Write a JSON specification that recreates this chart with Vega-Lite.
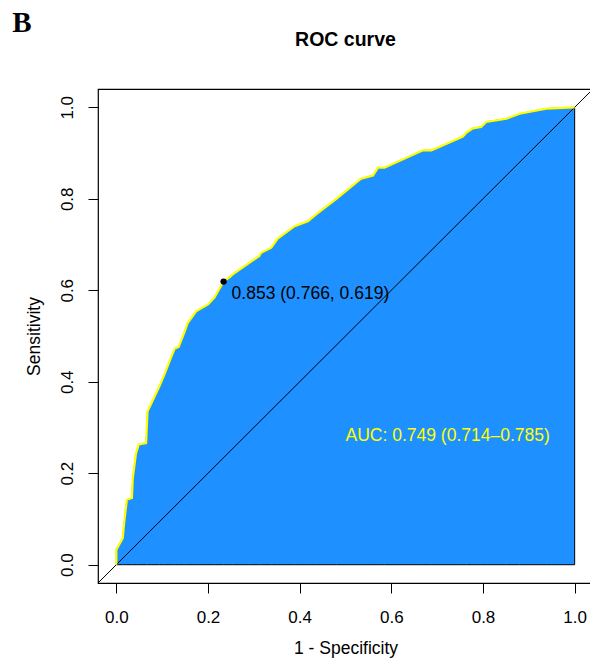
{
  "$schema": "https://vega.github.io/schema/vega-lite/v6.json",
  "autosize": {"type": "none"},
  "padding": {"left": 98, "top": 89, "right": 0, "bottom": 75},
  "width": 495,
  "height": 494,
  "background": "white",
  "config": {
    "font": "Liberation Sans",
    "view": {"stroke": "black", "strokeWidth": 1.2},
    "axis": {"domain": false, "grid": false, "tickColor": "black", "tickSize": 10, "tickWidth": 1, "labelColor": "black", "titleColor": "black", "labelFontSize": 17, "titleFontSize": 17.5, "titleFontWeight": "normal", "labelFont": "Liberation Sans", "titleFont": "Liberation Sans"}
  },
  "datasets": {
    "roc": [
      {"i": 0, "fpr": 0.0, "tpr": 0.0},
      {"i": 1, "fpr": 0.0, "tpr": 0.033},
      {"i": 2, "fpr": 0.014, "tpr": 0.058},
      {"i": 3, "fpr": 0.017, "tpr": 0.091},
      {"i": 4, "fpr": 0.023, "tpr": 0.142},
      {"i": 5, "fpr": 0.034, "tpr": 0.146},
      {"i": 6, "fpr": 0.036, "tpr": 0.19},
      {"i": 7, "fpr": 0.043, "tpr": 0.244},
      {"i": 8, "fpr": 0.049, "tpr": 0.263},
      {"i": 9, "fpr": 0.065, "tpr": 0.266},
      {"i": 10, "fpr": 0.068, "tpr": 0.335},
      {"i": 11, "fpr": 0.094, "tpr": 0.39},
      {"i": 12, "fpr": 0.105, "tpr": 0.416},
      {"i": 13, "fpr": 0.119, "tpr": 0.452},
      {"i": 14, "fpr": 0.127, "tpr": 0.472},
      {"i": 15, "fpr": 0.136, "tpr": 0.476},
      {"i": 16, "fpr": 0.148, "tpr": 0.507},
      {"i": 17, "fpr": 0.156, "tpr": 0.529},
      {"i": 18, "fpr": 0.174, "tpr": 0.554},
      {"i": 19, "fpr": 0.2, "tpr": 0.569},
      {"i": 20, "fpr": 0.214, "tpr": 0.584},
      {"i": 21, "fpr": 0.234, "tpr": 0.619},
      {"i": 22, "fpr": 0.25, "tpr": 0.631},
      {"i": 23, "fpr": 0.254, "tpr": 0.635},
      {"i": 24, "fpr": 0.29, "tpr": 0.66},
      {"i": 25, "fpr": 0.312, "tpr": 0.675},
      {"i": 26, "fpr": 0.316, "tpr": 0.682},
      {"i": 27, "fpr": 0.338, "tpr": 0.693},
      {"i": 28, "fpr": 0.352, "tpr": 0.713},
      {"i": 29, "fpr": 0.389, "tpr": 0.74},
      {"i": 30, "fpr": 0.418, "tpr": 0.751},
      {"i": 31, "fpr": 0.436, "tpr": 0.766},
      {"i": 32, "fpr": 0.48, "tpr": 0.8},
      {"i": 33, "fpr": 0.534, "tpr": 0.844},
      {"i": 34, "fpr": 0.56, "tpr": 0.851},
      {"i": 35, "fpr": 0.571, "tpr": 0.868},
      {"i": 36, "fpr": 0.585, "tpr": 0.868},
      {"i": 37, "fpr": 0.669, "tpr": 0.906},
      {"i": 38, "fpr": 0.687, "tpr": 0.906},
      {"i": 39, "fpr": 0.702, "tpr": 0.912},
      {"i": 40, "fpr": 0.756, "tpr": 0.936},
      {"i": 41, "fpr": 0.764, "tpr": 0.945},
      {"i": 42, "fpr": 0.778, "tpr": 0.954},
      {"i": 43, "fpr": 0.796, "tpr": 0.957},
      {"i": 44, "fpr": 0.807, "tpr": 0.968},
      {"i": 45, "fpr": 0.851, "tpr": 0.975},
      {"i": 46, "fpr": 0.88, "tpr": 0.986},
      {"i": 47, "fpr": 0.938, "tpr": 0.997},
      {"i": 48, "fpr": 1.0, "tpr": 1.0}
    ],
    "diag": [{"x": -0.04, "y": -0.04, "x2": 1.04, "y2": 1.04}],
    "best": [{"fpr": 0.234, "tpr": 0.619, "label": "0.853 (0.766, 0.619)"}],
    "auc": [{"x": 0.5, "y": 0.282, "label": "AUC: 0.749 (0.714–0.785)"}],
    "heading": [{"x": 0.5, "y": 1.1335, "label": "ROC curve"}],
    "panel": [{"x": -0.227, "y": 1.164, "label": "B"}]
  },
  "layer": [
    {
      "data": {"name": "roc"},
      "mark": {"type": "area", "fill": "#1E90FF", "stroke": "black", "strokeWidth": 1, "fillOpacity": 1, "opacity": 1, "interpolate": "linear"},
      "encoding": {
        "x": {"field": "fpr", "type": "quantitative", "scale": {"domain": [-0.04, 1.04], "nice": false, "zero": false}, "axis": {"values": [0, 0.2, 0.4, 0.6, 0.8, 1.0], "format": ".1f", "title": "1 - Specificity", "labelPadding": 16, "titlePadding": 14}},
        "y": {"field": "tpr", "type": "quantitative", "scale": {"domain": [-0.04, 1.04], "nice": false, "zero": false}, "axis": {"values": [0, 0.2, 0.4, 0.6, 0.8, 1.0], "format": ".1f", "title": "Sensitivity", "labelAngle": -90, "labelAlign": "center", "labelBaseline": "bottom", "labelPadding": 12, "titlePadding": 15}},
        "y2": {"datum": 0}
      }
    },
    {
      "data": {"name": "diag"},
      "mark": {"type": "rule", "color": "black", "strokeWidth": 1},
      "encoding": {
        "x": {"field": "x", "type": "quantitative"},
        "y": {"field": "y", "type": "quantitative"},
        "x2": {"field": "x2"},
        "y2": {"field": "y2"}
      }
    },
    {
      "data": {"name": "roc"},
      "mark": {"type": "line", "color": "#FFFF00", "strokeWidth": 2.2},
      "encoding": {
        "x": {"field": "fpr", "type": "quantitative"},
        "y": {"field": "tpr", "type": "quantitative"},
        "order": {"field": "i", "type": "quantitative"}
      }
    },
    {
      "data": {"name": "best"},
      "mark": {"type": "point", "filled": true, "color": "black", "size": 40, "opacity": 1},
      "encoding": {
        "x": {"field": "fpr", "type": "quantitative"},
        "y": {"field": "tpr", "type": "quantitative"}
      }
    },
    {
      "data": {"name": "best"},
      "mark": {"type": "text", "align": "left", "baseline": "middle", "dx": 8, "dy": 12, "fontSize": 17.5, "color": "black", "font": "Liberation Sans"},
      "encoding": {
        "x": {"field": "fpr", "type": "quantitative"},
        "y": {"field": "tpr", "type": "quantitative"},
        "text": {"field": "label"}
      }
    },
    {
      "data": {"name": "auc"},
      "mark": {"type": "text", "align": "left", "baseline": "middle", "fontSize": 17.5, "color": "#FFFF00", "font": "Liberation Sans"},
      "encoding": {
        "x": {"field": "x", "type": "quantitative"},
        "y": {"field": "y", "type": "quantitative"},
        "text": {"field": "label"}
      }
    },
    {
      "data": {"name": "heading"},
      "mark": {"type": "text", "align": "center", "baseline": "alphabetic", "fontSize": 19.5, "fontWeight": "bold", "color": "black", "font": "Liberation Sans", "clip": false},
      "encoding": {
        "x": {"field": "x", "type": "quantitative"},
        "y": {"field": "y", "type": "quantitative"},
        "text": {"field": "label"}
      }
    },
    {
      "data": {"name": "panel"},
      "mark": {"type": "text", "align": "left", "baseline": "alphabetic", "fontSize": 29, "fontWeight": "bold", "color": "black", "font": "Liberation Serif", "clip": false},
      "encoding": {
        "x": {"field": "x", "type": "quantitative"},
        "y": {"field": "y", "type": "quantitative"},
        "text": {"field": "label"}
      }
    }
  ]
}
